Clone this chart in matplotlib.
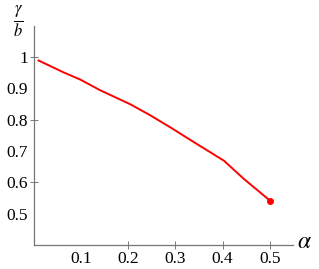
import matplotlib
matplotlib.use("Agg")
import matplotlib.pyplot as plt

alpha = [0.0106, 0.0636, 0.099, 0.141, 0.205, 0.247, 0.29, 0.346, 0.403, 0.445, 0.5]
ratio = [0.989, 0.951, 0.928, 0.894, 0.849, 0.814, 0.775, 0.722, 0.669, 0.611, 0.542]
xticks = [0.1, 0.2, 0.3, 0.4, 0.5]
yticks = [0.5, 0.6, 0.7, 0.8, 0.9, 1.0]
xtick_labels = ["0.1", "0.2", "0.3", "0.4", "0.5"]
ytick_labels = ["0.5", "0.6", "0.7", "0.8", "0.9", "1"]

plt.rcParams['font.family'] = ['Liberation Serif']
plt.rcParams['mathtext.fontset'] = 'stix'

W, H = 319, 269
fig = plt.figure(figsize=(W/100, H/100), dpi=100)
ax = fig.add_axes([33.5/W, 1-245/H, (293-33.5)/W, (245-26)/H])
ax.set_xlim(0, 0.549)
ax.set_ylim(0.4, 1.099)
for s in ['top', 'right']:
    ax.spines[s].set_visible(False)
for s in ['left', 'bottom']:
    ax.spines[s].set_color('#777777')
    ax.spines[s].set_linewidth(0.9)

ax.plot(alpha, ratio, color='red', lw=1.4)
ax.plot([alpha[-1]], [ratio[-1]], 'o', color='red', ms=4)

ax.set_xticks(xticks)
ax.set_yticks(yticks)
ax.set_xticklabels(xtick_labels)
ax.set_yticklabels(ytick_labels)
ax.tick_params(axis='both', direction='inout', length=6, width=0.7, color='#777777',
               labelsize=12.5, pad=1)
for lab in ax.get_xticklabels() + ax.get_yticklabels():
    lab.set_family('Liberation Serif')
for t, v in zip(ax.xaxis.get_major_ticks(), xticks):
    if v == 0.1:
        t.tick1line.set_visible(False)
for t, v in zip(ax.yaxis.get_major_ticks(), yticks):
    if v in (0.5, 0.7, 0.9):
        t.tick1line.set_visible(False)

fig.text(18/W, 1-21/H, r'$\frac{\gamma}{b}$', fontsize=17, ha='center', va='center')
fig.text(304/W, 1-243/H, r'$\alpha$', fontsize=17, ha='center', va='center')

fig.savefig('out.png', dpi=100)
